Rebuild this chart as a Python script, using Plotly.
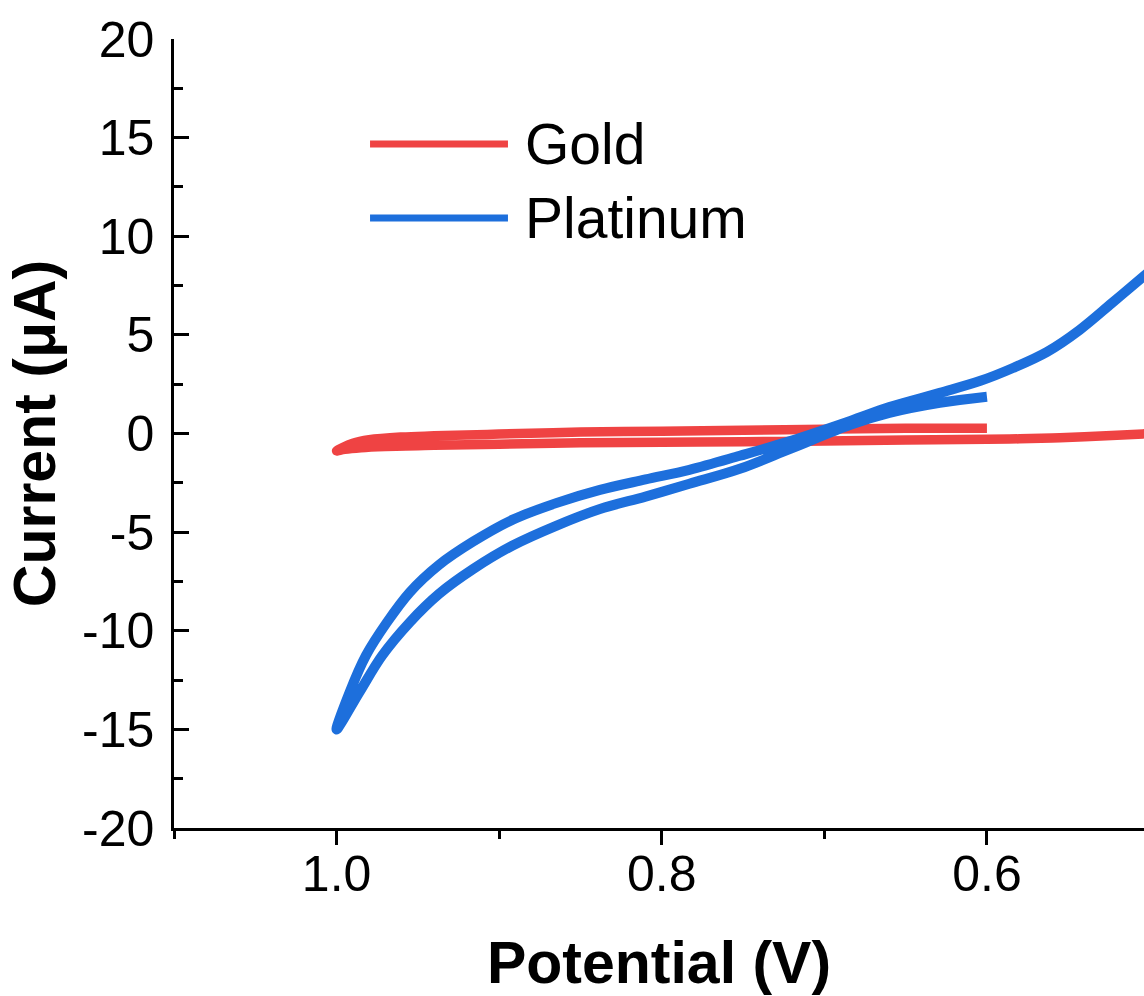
import plotly.graph_objects as go

# Cyclic voltammograms: potential (V) vs current (uA)
gold_potential = [0.600, 0.650, 0.700, 0.750, 0.800, 0.850, 0.900, 0.940, 0.960, 0.980, 0.990, 1.000,
                  0.995, 0.985, 0.970, 0.940, 0.900, 0.850, 0.800, 0.750, 0.700, 0.650, 0.600,
                  0.580, 0.560, 0.540, 0.520, 0.504, 0.490]
gold_current = [0.27, 0.26, 0.22, 0.17, 0.12, 0.07, -0.03, -0.12, -0.18, -0.32, -0.50, -0.88,
                -0.80, -0.72, -0.66, -0.60, -0.54, -0.47, -0.44, -0.42, -0.38, -0.33, -0.29,
                -0.27, -0.23, -0.16, -0.09, -0.02, 0.03]

platinum_potential = [0.600, 0.629, 0.660, 0.684, 0.721, 0.752, 0.783, 0.810, 0.838, 0.865, 0.892,
                      0.916, 0.937, 0.955, 0.972, 0.986, 1.000,
                      0.992, 0.982, 0.969, 0.955, 0.937, 0.916, 0.892, 0.865, 0.838, 0.810,
                      0.783, 0.752, 0.721, 0.684, 0.660, 0.629, 0.604, 0.584, 0.563, 0.543, 0.523,
                      0.504, 0.490]
platinum_current = [1.86, 1.55, 1.04, 0.44, -0.78, -1.79, -2.55, -3.20, -3.83, -4.68, -5.69,
                    -6.87, -8.13, -9.57, -11.26, -13.12, -15.00,
                    -13.12, -11.26, -9.57, -8.05, -6.66, -5.48, -4.38, -3.53, -2.86, -2.33,
                    -1.84, -1.13, -0.38, 0.64, 1.34, 2.06, 2.67, 3.32, 4.14, 5.25, 6.62,
                    7.94, 8.90]

series_names = ["Gold", "Platinum"]
series_colors = ["#EF4343", "#1D6FDC"]
series_widths = [9.5, 10]

x_tick_vals = [1.0, 0.8, 0.6]
x_tick_text = ["1.0", "0.8", "0.6"]
y_tick_vals = [-20, -15, -10, -5, 0, 5, 10, 15, 20]
y_tick_text = ["-20", "-15", "-10", "-5", "0", "5", "10", "15", "20"]

FONT = "Liberation Sans, Arial, sans-serif"

fig = go.Figure()
for name, color, width, xs, ys in [
    (series_names[0], series_colors[0], series_widths[0], gold_potential, gold_current),
    (series_names[1], series_colors[1], series_widths[1], platinum_potential, platinum_current),
]:
    fig.add_trace(go.Scatter(
        x=xs, y=ys, mode="lines", name=name, showlegend=False,
        line=dict(color=color, width=width, shape="spline", smoothing=1.0),
    ))

# Hand-placed legend: long line samples next to the series names
legend_rows = [0.8669, 0.7731]
for name, color, yrow in zip(series_names, series_colors, legend_rows):
    fig.add_shape(type="line", xref="paper", yref="paper",
                  x0=0.2021, x1=0.3443, y0=yrow, y1=yrow,
                  line=dict(color=color, width=7))
    fig.add_annotation(xref="paper", yref="paper", x=0.3598, y=yrow,
                       xanchor="left", yanchor="middle", showarrow=False,
                       text=name, font=dict(family=FONT, size=57, color="black"))

fig.update_xaxes(
    range=[1.1, 0.5034], autorange=False,
    tickmode="array", tickvals=x_tick_vals, ticktext=x_tick_text,
    ticks="outside", ticklen=14, tickwidth=2.5, tickcolor="black",
    minor=dict(tickmode="linear", tick0=0.0, dtick=0.1, ticks="outside",
               ticklen=8, tickwidth=2.5, tickcolor="black"),
    showline=True, linecolor="black", linewidth=2.5,
    showgrid=False, zeroline=False,
    ticklabelstandoff=-14,
    tickfont=dict(family=FONT, size=50, color="black"),
    title=dict(text="<b>Potential (V)</b>", standoff=44,
               font=dict(family=FONT, size=59, color="black")),
)
fig.update_yaxes(
    range=[-20, 20], autorange=False,
    tickmode="array", tickvals=y_tick_vals, ticktext=y_tick_text,
    ticks="inside", ticklen=15, tickwidth=2.5, tickcolor="black",
    minor=dict(tickmode="linear", tick0=0, dtick=2.5, ticks="inside",
               ticklen=9, tickwidth=2.5, tickcolor="black"),
    showline=True, linecolor="black", linewidth=2.5,
    showgrid=False, zeroline=False,
    ticklabelstandoff=7,
    tickfont=dict(family=FONT, size=50, color="black"),
    title=dict(text="<b>Current (μA)</b>", standoff=8,
               font=dict(family=FONT, size=59, color="black")),
)

fig.update_layout(
    width=1144, height=996,
    margin=dict(l=174, r=0, t=39, b=168),
    paper_bgcolor="white", plot_bgcolor="white",
    font=dict(family=FONT, color="black"),
)

fig.write_html("out.html")
